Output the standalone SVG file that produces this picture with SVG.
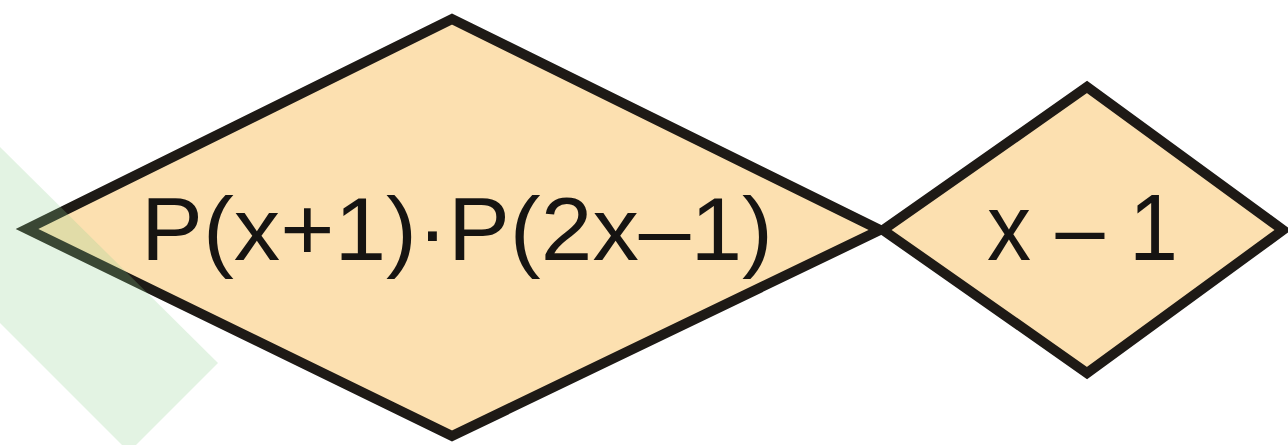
<svg xmlns="http://www.w3.org/2000/svg" width="1288" height="445" viewBox="0 0 1288 445">
<style>
.d{fill:#FCE0B0;stroke:#1E1A16;stroke-width:10;stroke-linejoin:miter;stroke-miterlimit:20}
.t{font-family:"Liberation Sans",Arial,sans-serif;fill:#161412}
</style>
<rect width="1288" height="445" fill="#ffffff"/>
<g id="node1">
<polygon class="d" points="27,229 452,19 880,230 452,436"/>
<text class="t" x="141" y="260" font-size="89" textLength="632" lengthAdjust="spacingAndGlyphs">P(x+1)·P(2x–1)</text>
</g>
<g id="node2">
<polygon class="d" points="883,230 1087,87 1283,230 1087,373"/>
<text class="t" x="987" y="260" font-size="94" textLength="191" lengthAdjust="spacingAndGlyphs">x – 1</text>
</g>
<g id="connectors"></g>
<polygon points="0,147 218,363 136,445 122,445 0,323" fill="#8FD18F" fill-opacity="0.25"/>
</svg>
